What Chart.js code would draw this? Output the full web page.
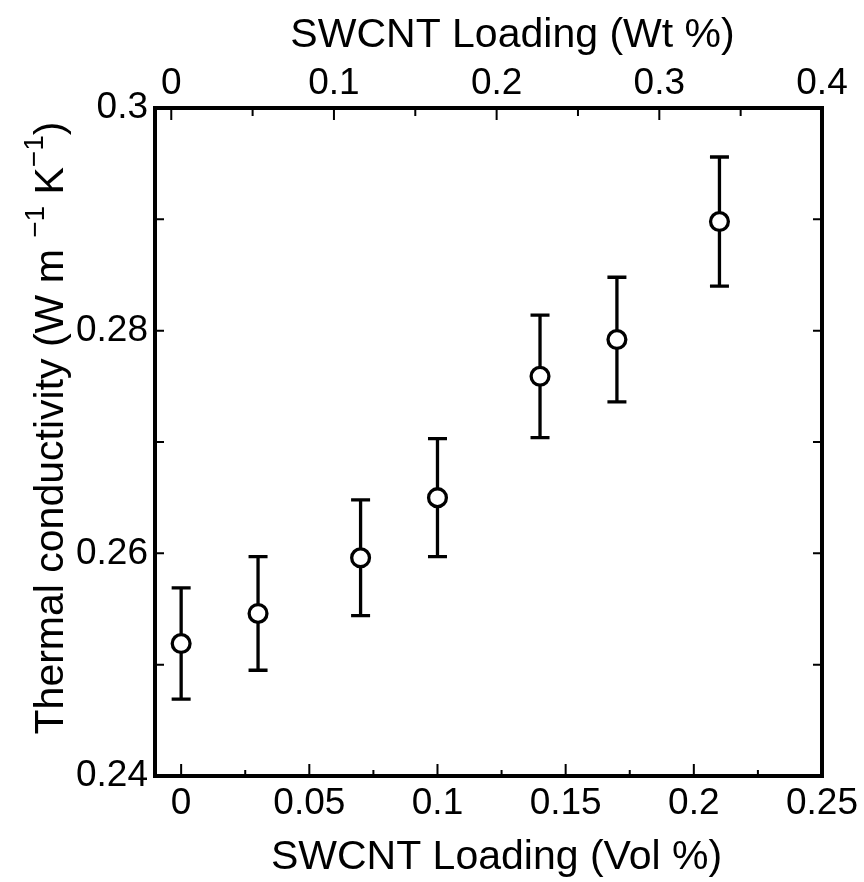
<!DOCTYPE html>
<html><head><meta charset="utf-8">
<script src="https://cdn.jsdelivr.net/npm/chart.js@4.4.0/dist/chart.umd.min.js"></script>
<style>html,body{margin:0;padding:0;background:#fff;} canvas{display:block;}</style>
</head><body>
<canvas id="c" width="864" height="882"></canvas>
<script>
// ---- data ----
const volLoading = [0, 0.03, 0.07, 0.10, 0.14, 0.17, 0.21];
const conductivity = [0.2519, 0.2546, 0.2596, 0.2650, 0.2759, 0.2792, 0.2898];
const conductivityErr = [0.0050, 0.0051, 0.0052, 0.0053, 0.0055, 0.0056, 0.0058];
const volTicks = [0, 0.05, 0.1, 0.15, 0.2, 0.25];
const volLabels = ['0', '0.05', '0.1', '0.15', '0.2', '0.25'];
const volMinorTicks = [0.025, 0.075, 0.125, 0.175, 0.225];
const wtTicks = [0, 0.1, 0.2, 0.3, 0.4];
const wtLabels = ['0', '0.1', '0.2', '0.3', '0.4'];
const wtMinorTicks = [0.05, 0.15, 0.25, 0.35];
const yTicks = [0.24, 0.26, 0.28, 0.3];
const yLabels = ['0.24', '0.26', '0.28', '0.3'];
const yMinorTicks = [0.25, 0.27, 0.29];
const xTitle = 'SWCNT Loading (Vol %)';
const x2Title = 'SWCNT Loading (Wt %)';
const yTitleParts = ['Thermal conductivity (W m ', '\u22121', ' K', '\u22121', ')'];

const FONT = '"Liberation Sans", Arial, sans-serif';

const framePlugin = {
  id: 'framePlugin',
  beforeDatasetsDraw(chart) {
    const {ctx} = chart;
    const xs = chart.scales.x, ys = chart.scales.y;
    ctx.save();
    ctx.strokeStyle = '#000';
    ctx.lineWidth = 3.3;
    const cap = 9.5;
    volLoading.forEach((v, i) => {
      const px = xs.getPixelForValue(v);
      const top = ys.getPixelForValue(conductivity[i] + conductivityErr[i]);
      const bot = ys.getPixelForValue(conductivity[i] - conductivityErr[i]);
      ctx.beginPath();
      ctx.moveTo(px, top); ctx.lineTo(px, bot);
      ctx.moveTo(px - cap, top); ctx.lineTo(px + cap, top);
      ctx.moveTo(px - cap, bot); ctx.lineTo(px + cap, bot);
      ctx.stroke();
    });
    ctx.restore();
  },
  afterDraw(chart) {
    const {ctx, chartArea: a} = chart;
    const xs = chart.scales.x, x2 = chart.scales.x2, ys = chart.scales.y;
    ctx.save();
    ctx.strokeStyle = '#000';
    ctx.fillStyle = '#000';
    // ticks
    ctx.lineWidth = 2;
    ctx.beginPath();
    volTicks.forEach(v => { const p = xs.getPixelForValue(v); ctx.moveTo(p, a.bottom); ctx.lineTo(p, a.bottom - 12); });
    volMinorTicks.forEach(v => { const p = xs.getPixelForValue(v); ctx.moveTo(p, a.bottom); ctx.lineTo(p, a.bottom - 6); });
    wtTicks.forEach(v => { const p = x2.getPixelForValue(v); ctx.moveTo(p, a.top); ctx.lineTo(p, a.top + 12); });
    wtMinorTicks.forEach(v => { const p = x2.getPixelForValue(v); ctx.moveTo(p, a.top); ctx.lineTo(p, a.top + 8); });
    yTicks.concat(yMinorTicks).forEach(v => {
      const p = ys.getPixelForValue(v);
      ctx.moveTo(a.left, p); ctx.lineTo(a.left + 9, p);
      ctx.moveTo(a.right, p); ctx.lineTo(a.right - 9, p);
    });
    ctx.stroke();
    // frame
    ctx.lineWidth = 4;
    ctx.strokeRect(a.left, a.top, a.right - a.left, a.bottom - a.top);
    // axis titles
    ctx.font = '41px ' + FONT;
    ctx.textAlign = 'center';
    ctx.textBaseline = 'alphabetic';
    const cx = (a.left + a.right) / 2;
    ctx.fillText(xTitle, cx + 8, 869);
    ctx.fillText(x2Title, cx + 24, 47);
    // y title with superscripts
    const fonts = ['41px ' + FONT, '28px ' + FONT, '41px ' + FONT, '28px ' + FONT, '41px ' + FONT];
    const raise = [0, 19, 0, 20, 0];
    let widths = yTitleParts.map((t, i) => { ctx.font = fonts[i]; return ctx.measureText(t).width; });
    const total = widths.reduce((s, w) => s + w, 0);
    ctx.translate(63, 428);
    ctx.rotate(-Math.PI / 2);
    ctx.textAlign = 'left';
    let pos = -total / 2;
    yTitleParts.forEach((t, i) => {
      ctx.font = fonts[i];
      ctx.fillText(t, pos, -raise[i]);
      pos += widths[i];
    });
    ctx.restore();
  }
};

const tickFont = {family: FONT, size: 37};

new Chart(document.getElementById('c'), {
  type: 'scatter',
  data: {
    datasets: [{
      data: volLoading.map((v, i) => ({x: v, y: conductivity[i]})),
      showLine: false,
      pointRadius: 8.9,
      pointHoverRadius: 8.9,
      pointBorderWidth: 3.3,
      pointBackgroundColor: '#fff',
      pointBorderColor: '#000'
    }]
  },
  options: {
    responsive: false,
    animation: false,
    events: [],
    layout: {padding: {left: 0, right: 40.5, top: 0, bottom: 0}},
    plugins: {legend: {display: false}, tooltip: {enabled: false}},
    scales: {
      x: {
        type: 'linear', position: 'bottom', min: -0.0102, max: 0.25,
        grid: {display: false, drawTicks: false}, border: {display: false},
        afterBuildTicks: s => { s.ticks = volTicks.map(v => ({value: v})); },
        afterFit: s => { s.height = 106; },
        ticks: {font: tickFont, color: '#000', padding: 6, maxRotation: 0, autoSkip: false,
          callback: (v, i) => volLabels[i]}
      },
      x2: {
        type: 'linear', position: 'top', min: -0.01, max: 0.4,
        grid: {display: false, drawTicks: false}, border: {display: false},
        afterBuildTicks: s => { s.ticks = wtTicks.map(v => ({value: v})); },
        afterFit: s => { s.height = 108; },
        ticks: {font: tickFont, color: '#000', padding: 2, maxRotation: 0, autoSkip: false,
          callback: (v, i) => wtLabels[i]}
      },
      y: {
        type: 'linear', position: 'left', min: 0.24, max: 0.3,
        grid: {display: false, drawTicks: false}, border: {display: false},
        afterBuildTicks: s => { s.ticks = yTicks.map(v => ({value: v})); },
        afterFit: s => { s.width = 155; },
        ticks: {font: tickFont, color: '#000', padding: 7, autoSkip: false,
          callback: (v, i) => yLabels[i]}
      }
    }
  },
  plugins: [framePlugin]
});
</script>
</body></html>
